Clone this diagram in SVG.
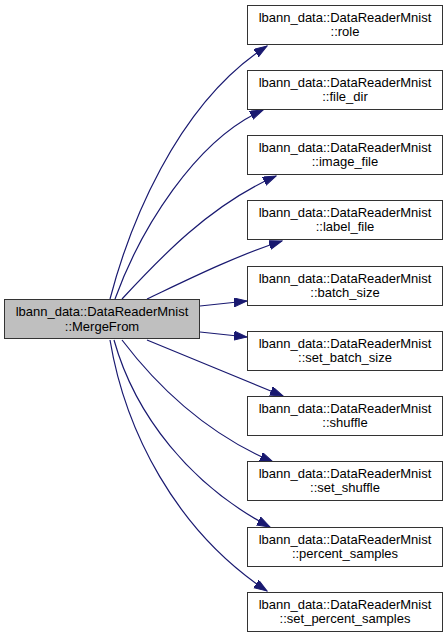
<svg xmlns="http://www.w3.org/2000/svg" width="448" height="639" viewBox="0 0 448 639">
<style>
.box{fill:#ffffff;stroke:#333333;stroke-width:1}
.main{fill:#bfbfbf;stroke:#333333;stroke-width:1}
.t{font-family:"Liberation Sans",Arial,sans-serif;font-size:13px;fill:#000000;text-anchor:middle}
.e{fill:none;stroke:#191970;stroke-width:1.2;marker-end:url(#ah)}
</style>
<defs>
<marker id="ah" markerUnits="userSpaceOnUse" markerWidth="14" markerHeight="10" refX="13" refY="4.5" orient="auto" viewBox="0 0 14 10">
<path d="M0,0 L13,4.5 L0,9 z" fill="#191970" stroke="#191970" stroke-width="1"/>
</marker>
</defs>
<rect width="448" height="639" fill="#ffffff"/>
<g id="edges">
<path class="e" d="M110,299 C128,230 175,105 267,46"/>
<path class="e" d="M115,299 C140,230 195,140 263,110"/>
<path class="e" d="M122,299 C160,258 210,205 276,176"/>
<path class="e" d="M147,299 C185,281 235,256 282,241"/>
<path class="e" d="M200,306 L247,301"/>
<path class="e" d="M200,332 L247,337"/>
<path class="e" d="M147,340 C190,358 240,378 283,396"/>
<path class="e" d="M122,340 C160,390 210,435 273,462"/>
<path class="e" d="M114,340 C135,415 190,485 270,527"/>
<path class="e" d="M110,340 C125,430 175,530 267,591"/>
</g>
<g id="main">
<rect class="main" x="4.5" y="299.5" width="195" height="39"/>
<text class="t" x="102" y="316">lbann_data::DataReaderMnist</text>
<text class="t" x="102" y="330.5">::MergeFrom</text>
</g>
<g id="n_role">
<rect class="box" x="247.5" y="5.5" width="195" height="39"/>
<text class="t" x="345" y="21.5">lbann_data::DataReaderMnist</text>
<text class="t" x="345" y="36">::role</text>
</g>
<g id="n_file_dir">
<rect class="box" x="247.5" y="70.5" width="195" height="39"/>
<text class="t" x="345" y="86.5">lbann_data::DataReaderMnist</text>
<text class="t" x="345" y="101">::file_dir</text>
</g>
<g id="n_image_file">
<rect class="box" x="247.5" y="135.5" width="195" height="39"/>
<text class="t" x="345" y="151.5">lbann_data::DataReaderMnist</text>
<text class="t" x="345" y="166">::image_file</text>
</g>
<g id="n_label_file">
<rect class="box" x="247.5" y="200.5" width="195" height="39"/>
<text class="t" x="345" y="216.5">lbann_data::DataReaderMnist</text>
<text class="t" x="345" y="231">::label_file</text>
</g>
<g id="n_batch_size">
<rect class="box" x="247.5" y="266.5" width="195" height="39"/>
<text class="t" x="345" y="282.5">lbann_data::DataReaderMnist</text>
<text class="t" x="345" y="297">::batch_size</text>
</g>
<g id="n_set_batch_size">
<rect class="box" x="247.5" y="331.5" width="195" height="39"/>
<text class="t" x="345" y="347.5">lbann_data::DataReaderMnist</text>
<text class="t" x="345" y="362">::set_batch_size</text>
</g>
<g id="n_shuffle">
<rect class="box" x="247.5" y="396.5" width="195" height="39"/>
<text class="t" x="345" y="412.5">lbann_data::DataReaderMnist</text>
<text class="t" x="345" y="427">::shuffle</text>
</g>
<g id="n_set_shuffle">
<rect class="box" x="247.5" y="461.5" width="195" height="39"/>
<text class="t" x="345" y="477.5">lbann_data::DataReaderMnist</text>
<text class="t" x="345" y="492">::set_shuffle</text>
</g>
<g id="n_percent_samples">
<rect class="box" x="247.5" y="527.5" width="195" height="39"/>
<text class="t" x="345" y="543.5">lbann_data::DataReaderMnist</text>
<text class="t" x="345" y="558">::percent_samples</text>
</g>
<g id="n_set_percent_samples">
<rect class="box" x="247.5" y="592.5" width="195" height="39"/>
<text class="t" x="345" y="608.5">lbann_data::DataReaderMnist</text>
<text class="t" x="345" y="623">::set_percent_samples</text>
</g>
</svg>
